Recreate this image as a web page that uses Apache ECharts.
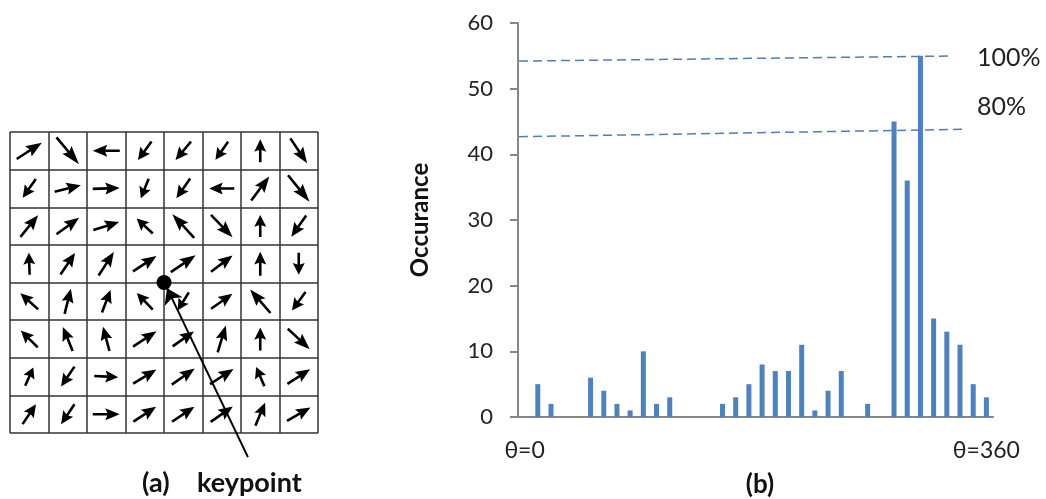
<!DOCTYPE html>
<html><head><meta charset="utf-8">
<script src="https://cdn.jsdelivr.net/npm/echarts@6/dist/echarts.min.js"></script>
<style>html,body{margin:0;padding:0;background:#fff}#c{width:1046px;height:499px}</style>
</head><body><div id="c"></div>
<script>
// ---- data ----
const binLabels = ['0','10','20','30','40','50','60','70','80','90','100','110','120','130','140','150','160','170',
  '180','190','200','210','220','230','240','250','260','270','280','290','300','310','320','330','340','350'];
const occurrences = [0,5,2,0,0,6,4,2,1,10,2,3,0,0,0,2,3,5,8,7,7,11,1,4,7,0,2,0,45,36,55,15,13,11,5,3];
const thetaLabels = ['θ=0','θ=360'];
const yMin = 0, yMax = 60, yStep = 10;
const line100 = [[0.08,54.2],[32.98,54.97]];
const line80 = [[0.08,42.68],[33.74,43.81]];
const pctLabels = ['100%','80%'];
// gradient orientation per cell (degrees, counter-clockwise from +x), rows top to bottom
const arrowAngles = [
  [33,-50,180,234,230,235,90,-56],
  [235,14,2,248,235,180,53,-51],
  [51,36,17,137,133,-46,90,235],
  [92,56,57,33,34,37,90,270],
  [138,76,69,134,238,35,131,234],
  [135,112,105,33,35,73,90,-43],
  [66,236,357,31,35,33,113,33],
  [56,236,0,33,34,35,67,30]
];
const arrowLengths = [
  [30,35,27,23,24,22,23,30],
  [23,27,27,21,24,25,30,34],
  [28,28,27,22,32,31,22,26],
  [22,26,28,28,30,27,24,22],
  [24,26,24,23,21,26,31,23],
  [24,26,25,28,26,28,23,30],
  [20,24,24,27,28,28,21,27],
  [24,24,27,27,27,27,25,27]
];
const keypoint = [4,4];
const keypointPointer = [[6.18,-0.64],[4.08,3.85]];
const captionA = ['(a)','keypoint'];
const captionB = '(b)';
const yName = 'Occurance';

// ---- build ----
const FONT = 'Lato, "Open Sans", sans-serif';
const arrowPath = 'path://M0,4.7 L15,4.7 L13,0 L28,6 L13,12 L15,7.3 L0,7.3 Z';
const arrowData = [];
arrowAngles.forEach((row, r) => row.forEach((a, c) => {
  arrowData.push({value:[c+0.5, 7.5-r], symbolRotate:a, symbolSize:[arrowLengths[r][c], 12]});
}));
const gridLine = {show:true, lineStyle:{color:'#333', width:1.5}};
const axGray = '#878787';

const chart = echarts.init(document.getElementById('c'), null, {renderer:'canvas'});
chart.setOption({
  backgroundColor:'#fff',
  animation:false,
  grid:[
    {left:10, top:132, width:308, height:301},
    {left:518, top:23, width:475, height:394}
  ],
  xAxis:[
    {gridIndex:0, type:'value', min:0, max:8, interval:1, axisLine:{show:false}, axisTick:{show:false}, axisLabel:{show:false}, splitLine:gridLine},
    {gridIndex:1, type:'category', data:binLabels, boundaryGap:true,
      axisLine:{lineStyle:{color:axGray, width:2}},
      axisTick:{interval:(i)=> i%10===0, length:8, lineStyle:{color:axGray, width:2}},
      axisLabel:{interval:(i)=> i===0 || i===binLabels.length-1,
        formatter:(v,i)=> i===0 ? thetaLabels[0] : thetaLabels[1],
        fontSize:23, color:'#222', margin:22, fontFamily:FONT},
      splitLine:{show:false}},
    {gridIndex:1, type:'value', min:0, max:binLabels.length, show:false}
  ],
  yAxis:[
    {gridIndex:0, type:'value', min:0, max:8, interval:1, axisLine:{show:false}, axisTick:{show:false}, axisLabel:{show:false}, splitLine:gridLine},
    {gridIndex:1, type:'value', min:yMin, max:yMax, interval:yStep,
      axisLine:{show:true, lineStyle:{color:axGray, width:2}},
      axisTick:{show:true, length:8, lineStyle:{color:axGray, width:2}},
      axisLabel:{fontSize:22, color:'#222', margin:25, fontFamily:FONT},
      splitLine:{show:false},
      name:yName, nameLocation:'middle', nameGap:86,
      nameTextStyle:{fontSize:24, fontWeight:'bold', color:'#111', fontFamily:FONT}}
  ],
  series:[
    {type:'bar', xAxisIndex:1, yAxisIndex:1, data:occurrences, barWidth:'38%', itemStyle:{color:'#4F81BD'}},
    {type:'line', xAxisIndex:2, yAxisIndex:1, data:line100, symbol:'none', lineStyle:{type:[9,5], color:'#4F7DB8', width:1.5}},
    {type:'line', xAxisIndex:2, yAxisIndex:1, data:line80, symbol:'none', lineStyle:{type:[9,5], color:'#4F7DB8', width:1.5}},
    {type:'scatter', xAxisIndex:0, yAxisIndex:0, data:arrowData, symbol:arrowPath, itemStyle:{color:'#000', opacity:1}, z:5},
    {type:'lines', coordinateSystem:'cartesian2d', xAxisIndex:0, yAxisIndex:0, clip:false,
      data:[{coords:keypointPointer}], symbol:['none','arrow'], symbolSize:15,
      lineStyle:{color:'#000', width:2, opacity:1}, z:6},
    {type:'scatter', xAxisIndex:0, yAxisIndex:0, data:[keypoint], symbol:'circle', symbolSize:15, itemStyle:{color:'#000', opacity:1}, z:7}
  ],
  graphic:[
    {type:'text', x:977, y:58, style:{text:pctLabels[0], fontSize:25, fontFamily:FONT, fill:'#222', align:'left', verticalAlign:'middle'}},
    {type:'text', x:977, y:107, style:{text:pctLabels[1], fontSize:25, fontFamily:FONT, fill:'#222', align:'left', verticalAlign:'middle'}},
    {type:'text', x:760, y:485, style:{text:captionB, fontSize:26, fontWeight:'bold', fontFamily:FONT, fill:'#111', align:'center', verticalAlign:'middle'}},
    {type:'text', x:142, y:483, style:{text:captionA[0], fontSize:27, fontWeight:'bold', fontFamily:FONT, fill:'#111', align:'left', verticalAlign:'middle'}},
    {type:'text', x:197, y:483, style:{text:captionA[1], fontSize:27, fontWeight:'bold', fontFamily:FONT, fill:'#111', align:'left', verticalAlign:'middle'}}
  ]
});
</script></body></html>
